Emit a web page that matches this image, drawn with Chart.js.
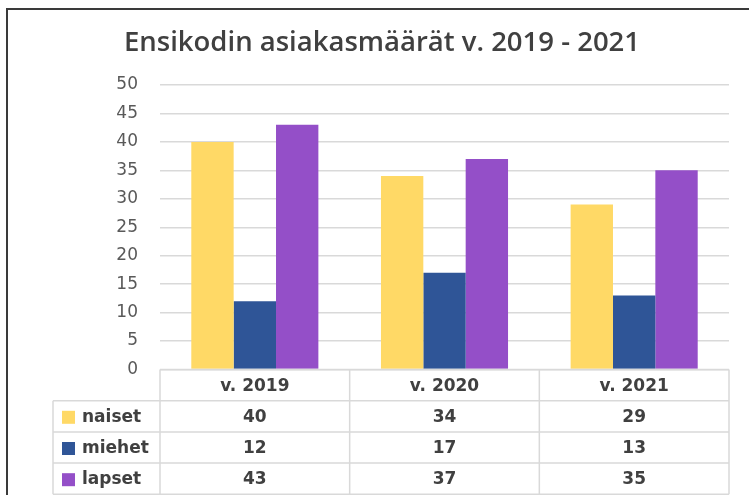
<!DOCTYPE html>
<html>
<head>
<meta charset="utf-8">
<script src="https://cdn.jsdelivr.net/npm/chart.js@4.4.0/dist/chart.umd.min.js"></script>
<style>
  html, body { margin: 0; padding: 0; background: #fff; }
  #wrap { position: absolute; left: 0; top: 0; width: 749px; height: 495px; }
  #frame { position: absolute; left: 6px; top: 8px; width: 760px; height: 500px;
           border-left: 2px solid #3a3a3a; border-top: 2px solid #3a3a3a; }
  canvas { position: absolute; left: 0; top: 0; }
</style>
</head>
<body>
<div id="wrap">
  <div id="frame"></div>
  <canvas id="chart" width="749" height="495"></canvas>
</div>
<script>
// Tiedot
const years = ['v. 2019', 'v. 2020', 'v. 2021'];
const naiset = [40, 34, 29];
const miehet = [12, 17, 13];
const lapset = [43, 37, 35];
const seriesNames = ['naiset', 'miehet', 'lapset'];
const seriesColors = ['#FFD966', '#2F5597', '#944FC8'];

// Taulukko kaavion alle (data table)
const dataTablePlugin = {
    id: 'dataTable',
    afterDraw(chart) {
        const ctx = chart.ctx;
        const area = chart.chartArea;
        const x = chart.scales.x;
        const n = years.length;
        const catW = (area.right - area.left) / n;
        const rowH = 31.2;
        const top = area.bottom;
        const legendLeft = 53;
        const rows = chart.data.datasets.length;

        ctx.save();
        ctx.strokeStyle = '#d9d9d9';
        ctx.lineWidth = 1.5;

        // vaakaviivat
        ctx.beginPath();
        ctx.moveTo(area.left, top);
        ctx.lineTo(area.right, top);
        for (let r = 1; r <= rows + 1; r++) {
            const yy = top + r * rowH;
            ctx.moveTo(legendLeft, yy);
            ctx.lineTo(area.right, yy);
        }
        // pystyviivat
        for (let c = 0; c <= n; c++) {
            const xx = area.left + c * catW;
            ctx.moveTo(xx, top);
            ctx.lineTo(xx, top + (rows + 1) * rowH);
        }
        ctx.moveTo(legendLeft, top + rowH);
        ctx.lineTo(legendLeft, top + (rows + 1) * rowH);
        ctx.stroke();

        ctx.fillStyle = '#404040';
        ctx.font = 'bold 17px "DejaVu Sans"';
        ctx.textAlign = 'center';
        ctx.textBaseline = 'middle';
        years.forEach((label, i) => {
            ctx.fillText(label, x.getPixelForValue(i), top + rowH / 2 + 1);
        });

        chart.data.datasets.forEach((ds, r) => {
            const cy = top + (r + 1.5) * rowH + 1;
            ctx.fillStyle = ds.backgroundColor;
            ctx.fillRect(62, cy - 6.5, 13, 13);
            ctx.fillStyle = '#404040';
            ctx.textAlign = 'left';
            ctx.fillText(ds.label, 82, cy);
            ctx.textAlign = 'center';
            ds.data.forEach((v, i) => {
                ctx.fillText(String(v), x.getPixelForValue(i), cy);
            });
        });
        ctx.restore();
    }
};

const ctx = document.getElementById('chart');
new Chart(ctx, {
    type: 'bar',
    data: {
        labels: years,
        datasets: [
            { label: seriesNames[0], data: naiset, backgroundColor: seriesColors[0] },
            { label: seriesNames[1], data: miehet, backgroundColor: seriesColors[1] },
            { label: seriesNames[2], data: lapset, backgroundColor: seriesColors[2] }
        ]
    },
    options: {
        responsive: false,
        animation: false,
        devicePixelRatio: 1,
        // vasen reunus siirtää otsikon keskikohtaa oikealle
        layout: { padding: { left: 35, right: 20, top: 0, bottom: 125.5 } },
        datasets: { bar: { categoryPercentage: 0.67, barPercentage: 1.0 } },
        plugins: {
            legend: { display: false },
            tooltip: { enabled: false },
            title: {
                display: true,
                text: 'Ensikodin asiakasmäärät v. 2019 - 2021',
                color: '#404040',
                font: { family: 'Open Sans', size: 27.5, weight: '600' },
                padding: { top: 27, bottom: 25 }
            }
        },
        scales: {
            x: { display: false },
            y: {
                min: 0,
                max: 50,
                ticks: {
                    stepSize: 5,
                    color: '#595959',
                    font: { family: 'DejaVu Sans', size: 17 },
                    padding: 22
                },
                grid: { color: '#d9d9d9', lineWidth: 1.5, drawTicks: false },
                border: { display: false },
                afterFit(scale) { scale.width = 125; }
            }
        }
    },
    plugins: [dataTablePlugin]
});
</script>
</body>
</html>
